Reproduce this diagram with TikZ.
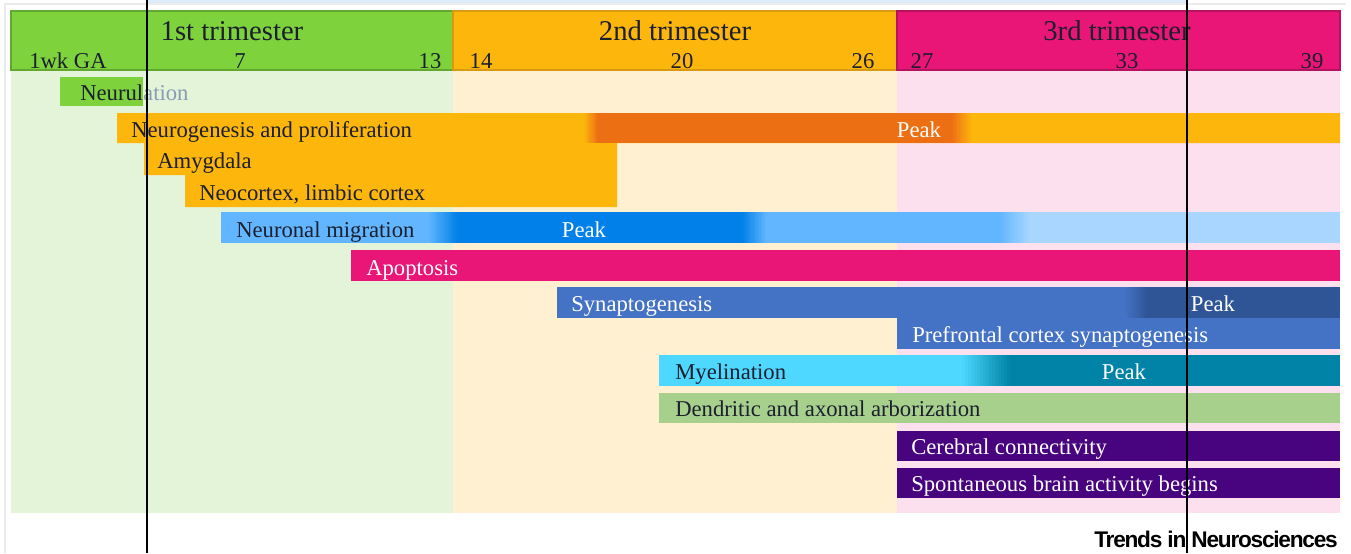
\documentclass[tikz,border=0pt]{standalone}
\usepackage{fontspec}
\setmainfont{Liberation Serif}
\newfontfamily\journalfont[LetterSpace=-5.5]{Liberation Sans}
\definecolor{trigreen}{HTML}{7ED23C}
\definecolor{trigreenline}{HTML}{62A82E}
\definecolor{triorange}{HTML}{FDB60C}
\definecolor{triorangeline}{HTML}{D99A12}
\definecolor{tripink}{HTML}{E91577}
\definecolor{tripinkline}{HTML}{B51260}
\definecolor{palegreen}{HTML}{E3F4D9}
\definecolor{paleorange}{HTML}{FEF0D0}
\definecolor{palepink}{HTML}{FCE0EE}
\definecolor{peakorange}{HTML}{ED6F14}
\definecolor{migblue}{HTML}{62B6FF}
\definecolor{migdark}{HTML}{0080E8}
\definecolor{migpale}{HTML}{A8D6FF}
\definecolor{synblue}{HTML}{4472C4}
\definecolor{syndark}{HTML}{2F5597}
\definecolor{myecyan}{HTML}{4ED8FF}
\definecolor{myeteal}{HTML}{0083A6}
\definecolor{dendgreen}{HTML}{A8D08D}
\definecolor{connpurple}{HTML}{48047F}
\definecolor{inkdark}{HTML}{1B1F2E}
\definecolor{fadedink}{HTML}{8A9BB5}
\definecolor{topblue}{HTML}{DCEBFA}
\definecolor{framegray}{HTML}{EBEBEB}
% #1,#2: x from/to, #3,#4: y from/to, #5 -> #6: colours
\newcommand{\fadebar}[6]{%
  \foreach \k [evaluate=\k as \mix using 100*(\k+0.5)/16,
               evaluate=\k as \xa using #1+(#2-#1)*\k/16,
               evaluate=\k as \xb using #1+(#2-#1)*(\k+1)/16+0.4] in {0,...,15}
    {\fill[#6!\mix!#5] (\xa,#3) rectangle (\xb,#4);}}
\begin{document}
\begin{tikzpicture}[x=0.75pt,y=-0.75pt,
    trimester/.style={anchor=base, inner sep=0pt, font=\fontsize{21.5}{24}\selectfont, text=inkdark},
    week/.style={anchor=base, inner sep=0pt, font=\fontsize{17}{20}\selectfont, text=inkdark},
    process/.style={anchor=base west, inner sep=0pt, font=\fontsize{17}{20}\selectfont, text=inkdark},
    whiteprocess/.style={process, text=white},
    peak/.style={anchor=base, inner sep=0pt, font=\fontsize{17}{20}\selectfont, text=white}]
   \useasboundingbox (0,0) rectangle (1351,553);
   \fill[white] (0,0) rectangle (1351,553);
   \fill[topblue] (147,0) rectangle (1187,4);
   \draw[framegray, line width=0.8pt] (5,553) -- (5,4) -- (1346,4);

   \fill[palegreen] (11,70) rectangle (453,513);
   \fill[paleorange] (453,70) rectangle (897,513);
   \fill[palepink] (897,70) rectangle (1340,513);

   \filldraw[fill=trigreen, draw=trigreenline, line width=1.2pt] (11,11) rectangle (453,70);
   \filldraw[fill=triorange, draw=triorangeline, line width=1.2pt] (453,11) rectangle (897,70);
   \filldraw[fill=tripink, draw=tripinkline, line width=1.2pt] (897,11) rectangle (1340,70);

   \node[trimester] (first) at (232,40) {1st trimester};
   \node[trimester] (second) at (675,40) {2nd trimester};
   \node[trimester] (third) at (1117,40) {3rd trimester};

   \node[week] (w1) at (68,68) {1wk GA};
   \node[week] (w7) at (240,68) {7};
   \node[week] (w13) at (430,68) {13};
   \node[week] (w14) at (481,68) {14};
   \node[week] (w20) at (682,68) {20};
   \node[week] (w26) at (863,68) {26};
   \node[week] (w27) at (922,68) {27};
   \node[week] (w33) at (1127,68) {33};
   \node[week] (w39) at (1312,68) {39};

   \fill[trigreen] (60,77) rectangle (143,106);
   \node[process] (neurulation) at (80,100) {Neurul\textcolor{fadedink}{ation}};

   \fill[triorange] (117,113) -- (1340,113) -- (1340,143) -- (617,143) -- (617,207)
      -- (185,207) -- (185,175) -- (144,175) -- (144,143) -- (117,143) -- cycle;
   \fadebar{584}{598}{113}{143}{triorange}{peakorange}
   \fill[peakorange] (598,113) rectangle (952,143);
   \fadebar{952}{972}{113}{143}{peakorange}{triorange}
   \node[process] (neurogenesis) at (131,137) {Neurogenesis and proliferation};
   \node[peak] (peakneuro) at (919,137) {Peak};
   \node[process] (amygdala) at (157,168) {Amygdala};
   \node[process] (neocortex) at (199,200) {Neocortex, limbic cortex};

   \fill[migblue] (221,212) rectangle (1340,243);
   \fadebar{428}{458}{212}{243}{migblue}{migdark}
   \fill[migdark] (458,212) rectangle (742,243);
   \fadebar{742}{767}{212}{243}{migdark}{migblue}
   \fadebar{1000}{1030}{212}{243}{migblue}{migpale}
   \fill[migpale] (1030,212) rectangle (1340,243);
   \node[process] (migration) at (236,237) {Neuronal migration};
   \node[peak] (peakmig) at (584,237) {Peak};

   \fill[tripink] (351,250) rectangle (1340,281);
   \node[whiteprocess] (apoptosis) at (366,275) {Apoptosis};

   \fill[synblue] (557,287) rectangle (1340,318);
   \fadebar{1125}{1147}{287}{318}{synblue}{syndark}
   \fill[syndark] (1147,287) rectangle (1340,318);
   \node[whiteprocess] (synaptogenesis) at (571,311) {Synaptogenesis};
   \node[peak] (peaksyn) at (1213,311) {Peak};

   \fill[synblue] (897,318) rectangle (1340,349);
   \node[whiteprocess] (prefrontal) at (912,342) {Prefrontal cortex synaptogenesis};

   \fill[myecyan] (659,355) rectangle (1340,386);
   \fadebar{962}{1010}{355}{386}{myecyan}{myeteal}
   \fill[myeteal] (1010,355) rectangle (1340,386);
   \node[process] (myelination) at (675,379) {Myelination};
   \node[peak] (peakmye) at (1124,379) {Peak};

   \fill[dendgreen] (659,393) rectangle (1340,423);
   \node[process] (dendritic) at (675,416) {Dendritic and axonal arborization};

   \fill[connpurple] (897,431) rectangle (1340,461);
   \node[whiteprocess] (connectivity) at (911,454) {Cerebral connectivity};

   \fill[connpurple] (897,468) rectangle (1340,498);
   \node[whiteprocess] (spontaneous) at (911,491) {Spontaneous brain activity begins};

   \node[anchor=base east, inner sep=0pt, font=\journalfont\bfseries\fontsize{17}{20}\selectfont] (journal) at (1338,547) {Trends in Neurosciences};

   \draw[black, line width=1.1pt] (147,0) -- (147,553);
   \draw[black, line width=1.1pt] (1187,0) -- (1187,553);
 \end{tikzpicture}
\end{document}
